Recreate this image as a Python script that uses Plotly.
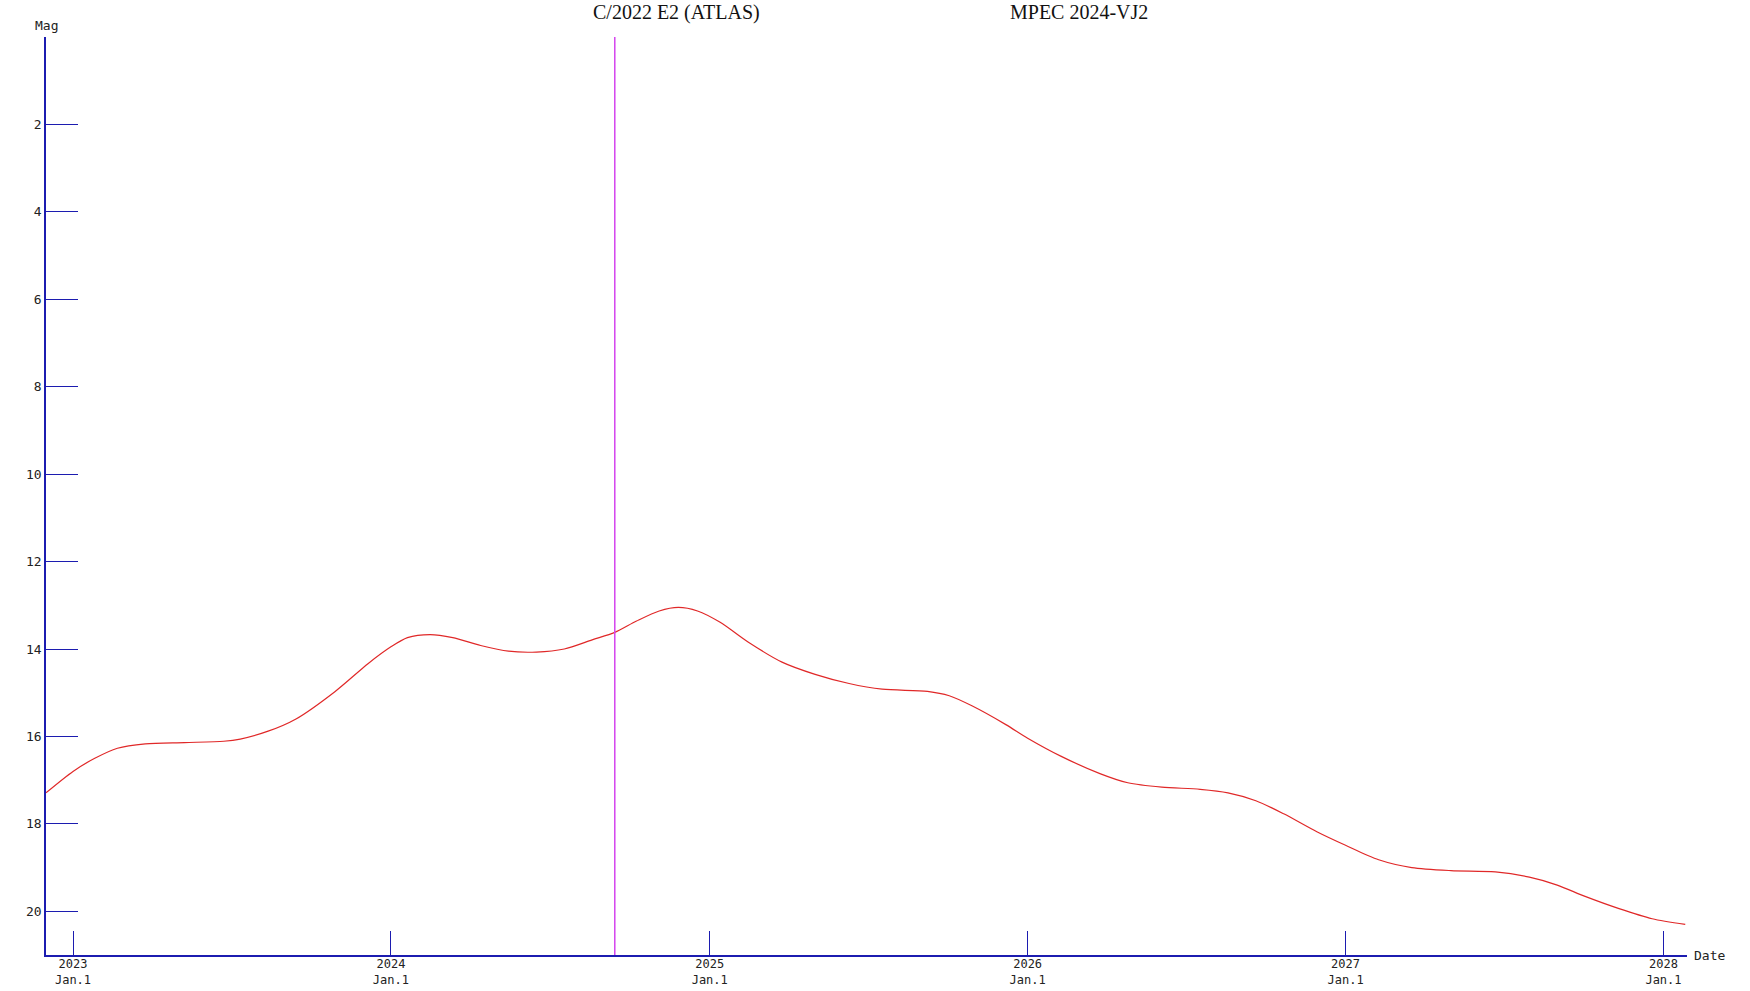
import plotly.graph_objects as go

# Brilho previsto do cometa (magnitude) ao longo do tempo
datas = [
    "2022-12-01", "2023-01-01", "2023-01-26", "2023-02-21", "2023-03-25",
    "2023-05-09", "2023-06-23", "2023-07-12", "2023-08-13", "2023-09-14",
    "2023-10-29", "2023-12-06", "2024-01-01", "2024-01-20", "2024-02-15",
    "2024-03-12", "2024-04-13", "2024-05-15", "2024-06-16", "2024-07-18",
    "2024-08-19", "2024-09-14", "2024-10-09", "2024-11-04", "2024-11-26",
    "2024-12-18", "2025-01-13", "2025-02-14", "2025-03-25", "2025-05-02",
    "2025-06-10", "2025-07-18", "2025-09-08", "2025-10-03", "2025-10-29",
    "2025-12-07", "2026-01-01", "2026-02-08", "2026-03-25", "2026-04-26",
    "2026-06-04", "2026-07-18", "2026-08-19", "2026-09-20", "2026-10-22",
    "2026-11-29", "2027-01-01", "2027-02-08", "2027-03-18", "2027-05-02",
    "2027-06-22", "2027-07-31", "2027-09-01", "2027-10-03", "2027-11-11",
    "2027-12-19", "2028-01-26",
]
magnitudes = [
    17.29, 16.80, 16.50, 16.27, 16.17,
    16.14, 16.11, 16.06, 15.88, 15.60,
    14.97, 14.33, 13.95, 13.74, 13.67,
    13.74, 13.92, 14.05, 14.07, 14.00,
    13.79, 13.62, 13.36, 13.13, 13.05,
    13.13, 13.39, 13.84, 14.30, 14.58,
    14.79, 14.92, 14.97, 15.07, 15.30,
    15.73, 16.04, 16.45, 16.85, 17.06,
    17.16, 17.21, 17.29, 17.47, 17.77,
    18.18, 18.49, 18.82, 19.00, 19.07,
    19.10, 19.22, 19.40, 19.66, 19.94,
    20.17, 20.30,
]

# Data atual (linha vertical)
data_atual = "2024-09-14"

# Eixos e rótulos
mag_ticks = [2, 4, 6, 8, 10, 12, 14, 16, 18, 20]
ano_ticks = ["2023-01-01", "2024-01-01", "2025-01-01", "2026-01-01", "2027-01-01", "2028-01-01"]
ano_labels = ["2023<br>Jan.1", "2024<br>Jan.1", "2025<br>Jan.1", "2026<br>Jan.1", "2027<br>Jan.1", "2028<br>Jan.1"]
x_inicio, x_fim = "2022-12-01", "2028-01-28"
mag_min, mag_max = 0, 21

nome_cometa = "C/2022 E2 (ATLAS)"
nome_mpec = "MPEC 2024-VJ2"

AZUL = "#1c1cb0"
MONO = "DejaVu Sans Mono, Liberation Mono, monospace"
SERIF = "Liberation Serif, Times New Roman, serif"

fig = go.Figure()

fig.add_trace(go.Scatter(
    x=datas, y=magnitudes, mode="lines",
    line=dict(color="#e02828", width=1.2, shape="spline", smoothing=0.8),
    hoverinfo="x+y", showlegend=False,
))

# Linha vertical magenta
fig.add_shape(type="line", xref="x", yref="y",
              x0=data_atual, x1=data_atual, y0=mag_max, y1=mag_min,
              line=dict(color="#d444ee", width=1.5))

fig.update_layout(
    width=1750, height=991,
    margin=dict(l=46, r=63, t=37, b=36),
    plot_bgcolor="white", paper_bgcolor="white",
    font=dict(family=MONO, size=13, color="#222222"),
    showlegend=False,
)

fig.update_xaxes(
    type="date", range=[x_inicio, x_fim], automargin=False,
    tickmode="array", tickvals=ano_ticks, ticktext=ano_labels,
    ticks="inside", ticklen=24, tickwidth=1, tickcolor=AZUL,
    showline=True, linecolor=AZUL, linewidth=1.5,
    showgrid=False, zeroline=False,
    ticklabelstandoff=-3,
    tickfont=dict(family=MONO, size=12, color="#222222"),
)
fig.update_yaxes(
    range=[mag_max, mag_min], automargin=False,
    tickmode="array", tickvals=mag_ticks,
    ticks="inside", ticklen=32, tickwidth=1, tickcolor=AZUL,
    showline=True, linecolor=AZUL, linewidth=1.5,
    showgrid=False, zeroline=False,
    ticklabelstandoff=0,
    tickfont=dict(family=MONO, size=13, color="#222222"),
)

# Rótulos dos eixos e títulos
fig.add_annotation(text="Mag", xref="paper", yref="paper", x=0, y=1,
                   xanchor="center", yanchor="bottom", yshift=2, showarrow=False,
                   font=dict(family=MONO, size=13, color="#222222"))
fig.add_annotation(text="Date", xref="paper", yref="paper", x=1, y=0,
                   xanchor="left", yanchor="middle", xshift=5, showarrow=False,
                   font=dict(family=MONO, size=13, color="#222222"))
fig.add_annotation(text=nome_cometa, xref="paper", yref="paper", x=0.3845, y=1,
                   xanchor="center", yanchor="middle", yshift=25, showarrow=False,
                   font=dict(family=SERIF, size=20, color="#111111"))
fig.add_annotation(text=nome_mpec, xref="paper", yref="paper", x=0.6295, y=1,
                   xanchor="center", yanchor="middle", yshift=25, showarrow=False,
                   font=dict(family=SERIF, size=20, color="#111111"))

# Remove a margem padrão do <body> para a figura ocupar a janela inteira
fig.write_html("out.html", config={"displayModeBar": False},
               post_script="document.body.style.margin='0';")
